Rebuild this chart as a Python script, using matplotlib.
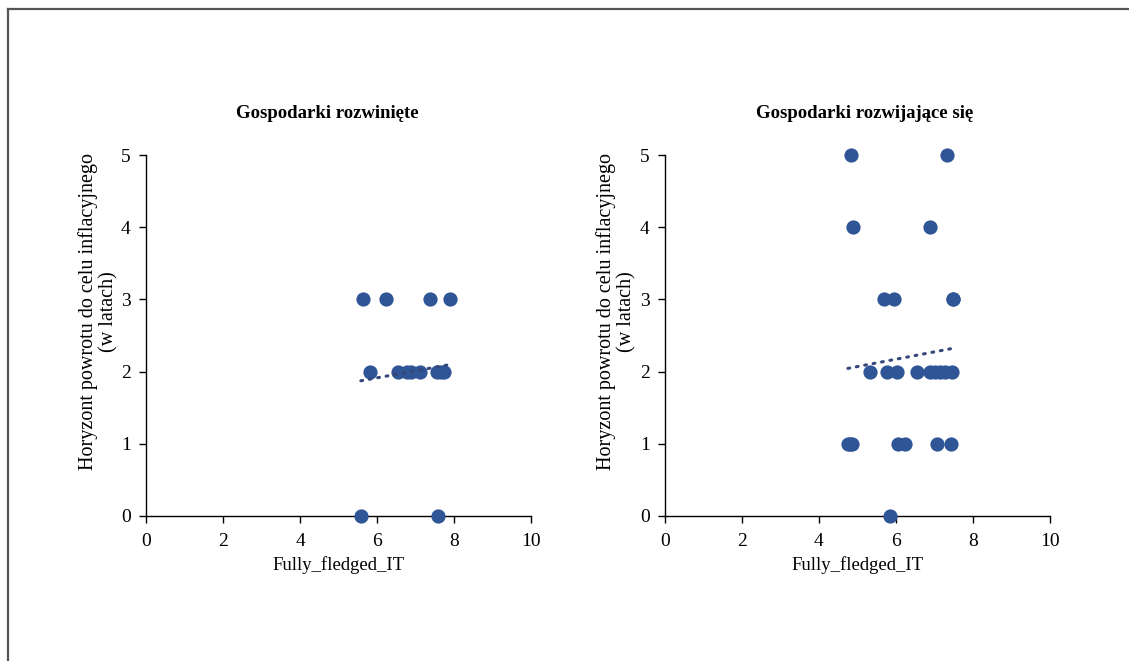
import numpy as np
import matplotlib
matplotlib.use("Agg")
import matplotlib.pyplot as plt
from matplotlib.lines import Line2D

plt.rcParams['font.family'] = ['Liberation Serif', 'DejaVu Serif']

# developed economies
dev_x = [5.64, 6.23, 7.38, 7.90,
         5.82, 6.55, 6.78, 6.88, 7.12, 7.56, 7.65, 7.75,
         5.58, 7.58]
dev_y = [3, 3, 3, 3,
         2, 2, 2, 2, 2, 2, 2, 2,
         0, 0]

# developing economies (some points overlap)
em_x = [4.83, 7.32,
        4.88, 6.88,
        5.69, 5.95, 7.48, 7.48,
        5.32, 5.77, 6.03, 6.55, 6.88, 7.01, 7.14, 7.27, 7.45,
        4.75, 4.80, 4.85, 6.05, 6.23, 7.06, 7.43,
        5.84]
em_y = [5, 5,
        4, 4,
        3, 3, 3, 3,
        2, 2, 2, 2, 2, 2, 2, 2, 2,
        1, 1, 1, 1, 1, 1, 1,
        0]

titles = ["Gospodarki rozwinięte", "Gospodarki rozwijające się"]
ylabel = "Horyzont powrotu do celu inflacyjnego\n(w latach)"
xlabel = "Fully_fledged_IT"

marker_col = "#2F5597"
trend_col = "#34467C"

fig = plt.figure(figsize=(11.29, 6.61), dpi=100)

# outer frame (top and left edges visible)
fig.add_artist(Line2D([8/1129, 1], [1 - 9/661, 1 - 9/661], color="#555555", lw=1.6,
                      transform=fig.transFigure))
fig.add_artist(Line2D([8/1129, 8/1129], [0, 1 - 9/661], color="#555555", lw=1.6,
                      transform=fig.transFigure))

lefts = [146, 665]
title_cx = [327, 865]
ylab_cx = [98, 616]
data = [(dev_x, dev_y), (em_x, em_y)]

for i in range(2):
    ax = fig.add_axes([lefts[i]/1129, 145/661, 385/1129, 361/661])
    x, y = data[i]
    ax.scatter(x, y, s=105, color=marker_col, zorder=3, linewidths=0, clip_on=False)
    k, b = np.polyfit(x, y, 1)
    xs = np.array([min(x), max(x)])
    ax.plot(xs, k*xs + b, color=trend_col, lw=2.2, linestyle=(0, (0.6, 2.2)),
            dash_capstyle='round', zorder=4)
    ax.set_xlim(0, 10)
    ax.set_ylim(0, 5)
    ax.set_xticks([0, 2, 4, 6, 8, 10])
    ax.set_yticks([0, 1, 2, 3, 4, 5])
    for s in ['top', 'right']:
        ax.spines[s].set_visible(False)
    for s in ['left', 'bottom']:
        ax.spines[s].set_linewidth(1.0)
        ax.spines[s].set_color("#000000")
    ax.tick_params(direction='out', length=5, width=1, labelsize=14)
    ax.tick_params(axis='x', pad=7)
    ax.tick_params(axis='y', pad=6)
    ax.set_xlabel(xlabel, fontsize=13.5, labelpad=5)
    fig.text(title_cx[i]/1129, 1 - 113/661, titles[i], ha='center', va='center',
             fontsize=13.5, fontweight='bold')
    fig.text(ylab_cx[i]/1129, 1 - 312/661, ylabel, ha='center', va='center',
             rotation=90, fontsize=14.5, linespacing=1.1)

fig.savefig("out.png", dpi=100)
